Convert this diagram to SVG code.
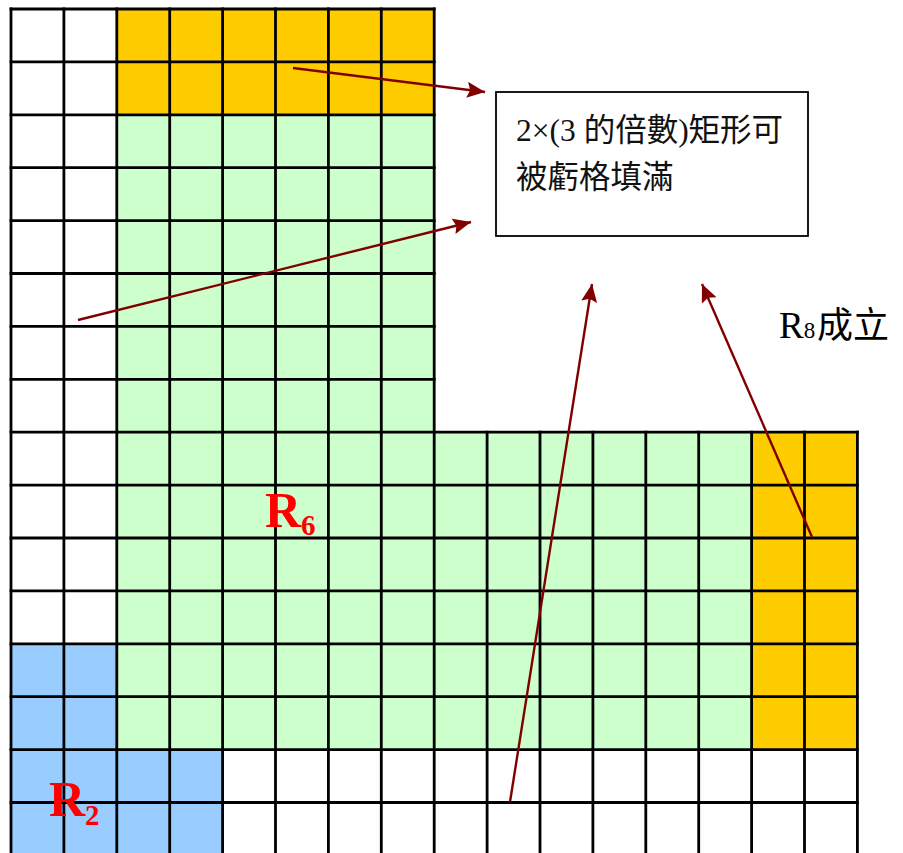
<svg xmlns="http://www.w3.org/2000/svg" width="903" height="853" viewBox="0 0 903 853">
<style>
.or{fill:#FFCC00}
.gr{fill:#CCFFCC}
.bl{fill:#99CCFF}
.gl{stroke:#000;stroke-width:2.8;fill:none;stroke-linecap:square}
.conn{stroke:#800000;stroke-width:2.4;fill:none}
.box{fill:#fff;stroke:#000;stroke-width:1.8}
.bt{font-family:"Liberation Serif","Noto Sans CJK TC",serif;font-size:31.5px;fill:#111}
.rl{font-family:"Liberation Serif",serif;font-weight:bold;fill:#FF0000}
.lb{font-family:"Liberation Serif","Noto Sans CJK TC",serif;fill:#000}
</style>
<defs>
<marker id="ah" markerUnits="userSpaceOnUse" markerWidth="20" markerHeight="18" refX="18" refY="8" orient="auto">
<path d="M0,0 L18,8 L0,16 L3,8 Z" fill="#800000"/>
</marker>
</defs>
<rect width="903" height="853" fill="#fff"/>
<g id="grid">
<rect class="or" x="116.8" y="9" width="317.4" height="105.8"/>
<rect class="gr" x="116.8" y="114.8" width="317.4" height="317.4"/>
<rect class="gr" x="116.8" y="432.2" width="634.8" height="317.4"/>
<rect class="or" x="751.6" y="432.2" width="105.8" height="317.4"/>
<rect class="bl" x="11" y="643.8" width="105.8" height="105.8"/>
<rect class="bl" x="11" y="749.6" width="211.6" height="105.8"/>
<path class="gl" d="M11,9V855.4 M63.9,9V855.4 M116.8,9V855.4 M169.7,9V855.4 M222.6,9V855.4 M275.5,9V855.4 M328.4,9V855.4 M381.3,9V855.4 M434.2,9V855.4 M487.1,432.2V855.4 M540,432.2V855.4 M592.9,432.2V855.4 M645.8,432.2V855.4 M698.7,432.2V855.4 M751.6,432.2V855.4 M804.5,432.2V855.4 M857.4,432.2V855.4"/>
<path class="gl" d="M11,9H434.2 M11,61.9H434.2 M11,114.8H434.2 M11,167.7H434.2 M11,220.6H434.2 M11,273.5H434.2 M11,326.4H434.2 M11,379.3H434.2 M11,432.2H857.4 M11,485.1H857.4 M11,538H857.4 M11,590.9H857.4 M11,643.8H857.4 M11,696.7H857.4 M11,749.6H857.4 M11,802.5H857.4 M11,855.4H857.4"/>
</g>
<g id="textbox">
<rect class="box" x="496" y="92" width="312" height="144"/>
<text class="bt" x="516" y="141">2×(3 的倍數)矩形可</text>
<text class="bt" x="516" y="188">被虧格填滿</text>
</g>
<g id="label-R6">
<text class="rl" x="265" y="527" font-size="50">R<tspan font-size="29" dy="8">6</tspan></text>
</g>
<g id="label-R2">
<text class="rl" x="49" y="816" font-size="50">R<tspan font-size="29" dy="9">2</tspan></text>
</g>
<g id="label-R8">
<text class="lb" x="779" y="338" font-size="37">R<tspan font-size="23">8</tspan><tspan font-family="Noto Sans CJK TC,sans-serif" font-size="36" x="817">成立</tspan></text>
</g>
<g id="connectors">
<line class="conn" x1="293" y1="68" x2="485" y2="92" marker-end="url(#ah)"/>
<line class="conn" x1="78" y1="320" x2="471" y2="222" marker-end="url(#ah)"/>
<line class="conn" x1="510" y1="802" x2="592" y2="284" marker-end="url(#ah)"/>
<line class="conn" x1="812" y1="537" x2="702" y2="284" marker-end="url(#ah)"/>
</g>
</svg>
